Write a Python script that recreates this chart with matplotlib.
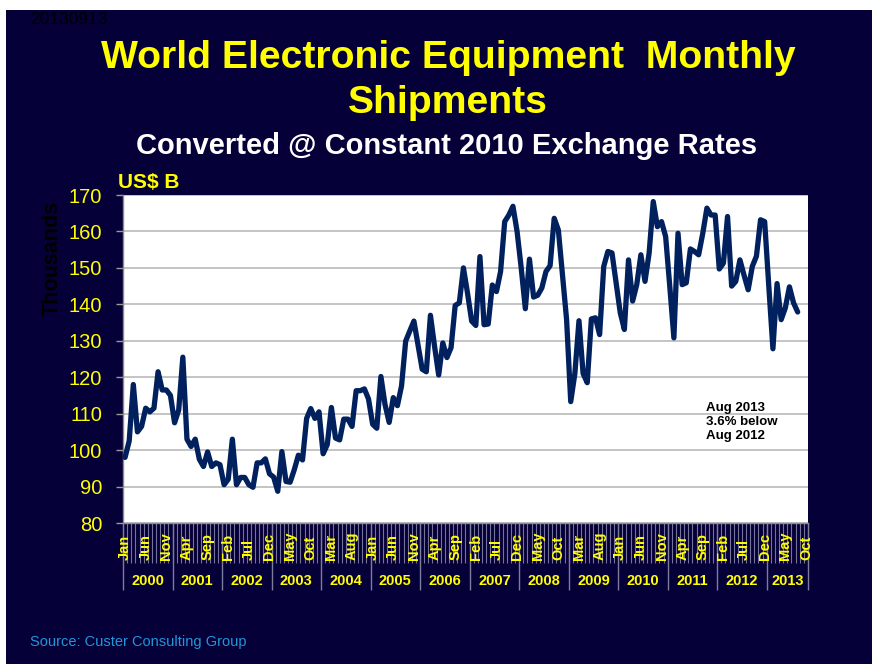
import matplotlib.pyplot as plt
import matplotlib.transforms as mtransforms
from matplotlib.patches import Rectangle
import numpy as np

plt.rcParams['font.family'] = ['Liberation Sans', 'DejaVu Sans']

# World electronic equipment shipments, US$ B, Jan 2000 - Aug 2013
shipments = [
    98, 102.5, 118, 105, 106.5, 111.5, 110.5, 111.5, 121.5, 116.5, 116.5, 115,      # 2000
    107.5, 111, 125.5, 103, 101, 103, 97.5, 95.5, 99.5, 95.5, 96.5, 96,             # 2001
    90.5, 92, 103, 90.5, 92.5, 92.5, 90.5, 89.8, 96.5, 96.5, 97.6, 93.5,            # 2002
    92.6, 88.7, 99.6, 91.4, 91.2, 94.6, 98.6, 97.3, 108.7, 111.4, 108.7, 110.5,     # 2003
    99, 101.5, 111.7, 103.3, 102.8, 108.5, 108.5, 106.5, 116.3, 116.3, 116.8, 114,  # 2004
    107.1, 106, 120.2, 112.5, 107.6, 114.4, 112.2, 117.6, 129.9, 132.7, 135.4, 128.8,  # 2005
    122.2, 121.5, 137, 128.5, 120.6, 129.4, 125.4, 128.1, 139.7, 140.4, 150, 143,   # 2006
    135.4, 134.2, 153.1, 134.4, 134.6, 145.3, 143.5, 149, 162.7, 164.5, 166.9, 160,  # 2007
    150, 138.8, 152.4, 142, 142.5, 144.5, 149, 150.6, 163.6, 160.4, 148, 135.8,     # 2008
    113.3, 121, 135.5, 121, 118.5, 136, 136.3, 131.7, 150.4, 154.5, 154.1, 146,     # 2009
    137.7, 133.1, 152.2, 140.9, 145.4, 153.6, 146.3, 154.1, 168.2, 161.3, 162.7, 158.6,  # 2010
    145, 130.8, 159.5, 145.4, 145.9, 155.2, 154.5, 153.6, 159.5, 166.4, 164.5, 164.5,  # 2011
    149.7, 151.3, 164.1, 145, 146.3, 152.2, 148, 144, 150.4, 153.2, 163.2, 162.7,   # 2012
    145, 127.8, 145.7, 135.8, 139, 144.8, 140.4, 137.9,                              # 2013
]
month_names = ['Jan', 'Feb', 'Mar', 'Apr', 'May', 'Jun',
               'Jul', 'Aug', 'Sep', 'Oct', 'Nov', 'Dec']
years = list(range(2000, 2014))
n_months = 166          # category axis runs Jan 2000 .. Oct 2013
y_ticks = [80, 90, 100, 110, 120, 130, 140, 150, 160, 170]

W, H = 879, 664
navy = '#060038'
yellow = '#ffff00'

fig = plt.figure(figsize=(W / 100, H / 100), dpi=100, facecolor='white')


def fx(px):
    return px / W


def fy(px):
    return 1 - px / H


# dark slide background (thin white margin top/left)
fig.patches.append(Rectangle((fx(6), 0), fx(872) - fx(6), fy(10), transform=fig.transFigure,
                             facecolor=navy, edgecolor='none', zorder=-5))

ax = fig.add_axes([fx(123), fy(523), fx(808) - fx(123), (523 - 195) / H])
ax.set_zorder(2)
ax.set_facecolor('white')
ax.plot(np.arange(len(shipments)), shipments, color='#00215e', lw=3.8,
        solid_joinstyle='round', solid_capstyle='round', zorder=3)

ax.set_xlim(-0.5, n_months - 0.5)
ax.set_ylim(80, 170)
ax.set_yticks(y_ticks)
ax.yaxis.grid(True, color='#b4b4b4', lw=1.1)
ax.set_axisbelow(True)
ax.tick_params(axis='y', colors='#9a9a9a', length=5, width=1,
               labelcolor=yellow, labelsize=14.5, pad=10)
ax.set_xticks([])
for s in ['top', 'right']:
    ax.spines[s].set_visible(False)
ax.spines['left'].set_color('#8c8c8c')
ax.spines['bottom'].set_color('#8c8c8c')
ax.spines['left'].set_linewidth(1)
ax.spines['bottom'].set_linewidth(1)

# two-level category axis: months + years
trans = mtransforms.blended_transform_factory(ax.transData, fig.transFigure)
ax.vlines(np.arange(-0.5, n_months), fy(523), fy(563), transform=trans,
          color='#74749a', lw=0.8, clip_on=False)
ax.vlines([12 * k - 0.5 for k in range(len(years))] + [n_months - 0.5], fy(523), fy(590),
          transform=trans, color='#7c7c9c', lw=1, clip_on=False)

for i in range(0, n_months, 5):
    ax.text(i, fy(560), month_names[i % 12], transform=trans, rotation=90,
            ha='center', va='bottom', color=yellow, fontsize=10.5, fontweight='bold')

for k, yr in enumerate(years):
    start = 12 * k - 0.5
    end = min(12 * k + 11.5, n_months - 0.5)
    ax.text((start + end) / 2, fy(581), str(yr), transform=trans, ha='center', va='center',
            color=yellow, fontsize=10.5, fontweight='bold')

# titles and labels
fig.text(fx(30), fy(20), '20130913', ha='left', va='center', color='black', fontsize=12.5)
fig.text(fx(448), fy(68), 'World Electronic Equipment  Monthly', ha='center', va='baseline',
         color=yellow, fontsize=28.2, fontweight='bold')
fig.text(fx(448), fy(113), 'Shipments', ha='center', va='baseline',
         color=yellow, fontsize=28.2, fontweight='bold')
fig.text(fx(447), fy(154), 'Converted @ Constant 2010 Exchange Rates', ha='center', va='baseline',
         color='white', fontsize=21, fontweight='bold')
fig.text(fx(118), fy(183), 'US$ B', ha='left', va='center', color=yellow,
         fontsize=15, fontweight='bold')
fig.text(fx(52), fy(258), 'Thousands', ha='center', va='center', rotation=90,
         color='black', fontsize=15.5, fontweight='bold')
fig.text(fx(706), fy(422), 'Aug 2013\n3.6% below\nAug 2012', ha='left', va='center',
         color='black', fontsize=9.5, fontweight='bold', linespacing=1.2, zorder=5)
fig.text(fx(30), fy(642), 'Source: Custer Consulting Group', ha='left', va='center',
         color='#2196d8', fontsize=10.5)

fig.savefig('out.png', dpi=100, facecolor=fig.get_facecolor())
